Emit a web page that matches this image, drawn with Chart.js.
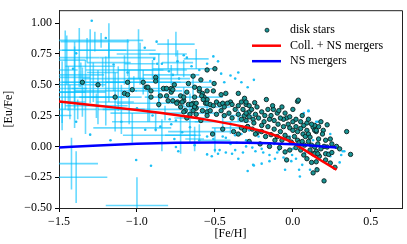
<!DOCTYPE html>
<html>
<head>
<meta charset="utf-8">
<script src="https://cdn.jsdelivr.net/npm/chart.js@4.4.0/dist/chart.umd.min.js"></script>
<style>
html, body { margin: 0; padding: 0; background: #fff; }
</style>
</head>
<body>
<canvas id="eu-chart" width="407" height="244"></canvas>
<script>
// axis ticks
const xTicks = [-1.5, -1.0, -0.5, 0.0, 0.5];
const xTickLabels = ['\u22121.5', '\u22121.0', '\u22120.5', '0.0', '0.5'];
const yTicks = [-0.5, -0.25, 0.0, 0.25, 0.5, 0.75, 1.0];
const yTickLabels = ['\u22120.50', '\u22120.25', '0.00', '0.25', '0.50', '0.75', '1.00'];

// model curves
const modelFeH = [-1.5, -1.25, -1.0, -0.75, -0.5, -0.3, -0.15, 0.0, 0.05, 0.15, 0.28];
const collNsEu = [0.365, 0.33, 0.295, 0.255, 0.205, 0.155, 0.105, 0.03, -0.01, -0.09, -0.19];
const nsEu = [-0.01, 0.008, 0.022, 0.03, 0.032, 0.03, 0.026, 0.017, 0.013, 0.003, -0.01];

// disk stars
const diskFeH = [
  -1.35, -1.25, -1.14, -1.08, -1.06, -1.06, -1.03, -0.96, -0.94, -0.93, -0.91, -0.88, -0.88, -0.91, -0.86, -0.85,
  -0.83, -0.81, -0.81, -0.80, -0.78, -0.78, -0.77, -0.76, -0.74, -0.72, -0.72, -0.70, -0.69, -0.67, -0.64, -0.63,
  -0.63, -0.62, -0.60, -0.59, -0.58, -0.57, -0.56, -0.55, -0.55,
  -0.50, -0.64, -0.505, -0.77, -0.68, -0.63, -0.60, -0.585, -0.55, -0.51, -0.46, -0.43, -0.40, -0.35, -0.31, -0.70,
  -0.745, -0.71, -0.67, -0.65, -0.63, -0.62, -0.575, -0.55, -0.53, -0.51, -0.49, -0.47, -0.45, -0.44, -0.42, -0.39,
  -0.37, -0.35, -0.33, -0.32, -0.30, -0.28, -0.70, -0.66, -0.64, -0.62, -0.58, -0.55, -0.53, -0.49, -0.46, -0.44,
  -0.41, -0.39, -0.35, -0.33, -0.31, -0.30, -0.45, -0.38, -0.35, -0.515, -0.33, -0.31, -0.29, -0.68, -0.59,
  -0.17, 0.03, -0.30, -0.245, -0.28, -0.265, -0.23, -0.20, -0.16, -0.125, -0.10, -0.09, -0.04, -0.06, -0.30, -0.28,
  -0.255, -0.24, -0.22, -0.185, -0.18, -0.15, -0.14, -0.12, -0.095, -0.08, -0.06, -0.03, -0.02, 0.0, 0.02, 0.03,
  0.05, 0.065, 0.08, 0.09, 0.10, 0.11, 0.13, 0.15, 0.14, 0.165, -0.29, -0.26, -0.23, -0.20, -0.175, -0.14,
  -0.115, -0.10, -0.07, -0.05, -0.03, -0.01, 0.01, 0.03, 0.04, 0.06, 0.075, 0.10, 0.12, 0.14, 0.16, 0.11,
  0.13, 0.15, 0.17, 0.07, -0.05, -0.04, 0.13, -0.28, -0.21, -0.15, -0.085,
  0.22, 0.345, 0.14, 0.15, 0.195, 0.19, 0.165, 0.21, 0.24, 0.22, 0.14, 0.16, 0.21, 0.23, 0.25, 0.15,
  0.21, 0.24, 0.27, 0.37, 0.20, 0.155, -0.55, 0.035,
  -0.05, -0.02, 0.0, 0.02, 0.05, 0.07, 0.09, -0.12, -0.08, -0.16, -0.20, -0.25, -0.24, -0.13, -0.07, 0.0,
  0.06, 0.10, 0.12, 0.18, 0.20, 0.18, 0.05, 0.02, 0.09, 0.12, -0.02, 0.25, 0.28, 0.30
];
const diskEuFe = [
  0.52, 0.50, 0.40, 0.43, 0.42, 0.52, 0.46, 0.52, 0.48, 0.48, 0.45, 0.56, 0.53, 0.40, 0.34, 0.41,
  0.47, 0.47, 0.41, 0.37, 0.44, 0.47, 0.37, 0.50, 0.36, 0.32, 0.41, 0.37, 0.29, 0.51, 0.35, 0.32,
  0.40, 0.31, 0.45, 0.54, 0.43, 0.40, 0.35, 0.28, 0.38,
  0.63, 0.57, 0.51, 0.46, 0.44, 0.48, 0.47, 0.41, 0.45, 0.45, 0.42, 0.43, 0.36, 0.43, 0.39, 0.40,
  0.35, 0.36, 0.34, 0.34, 0.32, 0.35, 0.38, 0.35, 0.34, 0.33, 0.36, 0.34, 0.35, 0.32, 0.35, 0.34,
  0.30, 0.33, 0.36, 0.30, 0.34, 0.28, 0.28, 0.26, 0.29, 0.26, 0.29, 0.25, 0.29, 0.26, 0.29, 0.25,
  0.27, 0.23, 0.26, 0.22, 0.25, 0.21, 0.14, 0.12, 0.10, 0.10, 0.15, 0.13, 0.16, 0.23, 0.21,
  0.38, 0.365, 0.36, 0.355, 0.33, 0.30, 0.32, 0.28, 0.30, 0.30, 0.27, 0.29, 0.23, 0.22, 0.27, 0.24,
  0.22, 0.26, 0.23, 0.20, 0.25, 0.22, 0.25, 0.21, 0.18, 0.23, 0.16, 0.18, 0.15, 0.13, 0.16, 0.12,
  0.145, 0.10, 0.08, 0.13, 0.10, 0.075, 0.155, 0.12, 0.13, 0.16, 0.16, 0.14, 0.11, 0.12, 0.08, 0.095,
  0.05, 0.08, 0.05, 0.09, 0.065, 0.035, 0.08, 0.05, 0.03, 0.04, 0.01, 0.04, 0.01, -0.005, 0.02, -0.03,
  -0.06, -0.04, -0.08, -0.07, -0.045, -0.11, -0.215, 0.04, 0.02, 0.0, -0.01,
  0.175, 0.12, 0.17, 0.13, 0.13, 0.10, 0.06, 0.05, 0.06, -0.005, -0.06, -0.06, -0.06, -0.065, -0.05, -0.125,
  -0.11, -0.135, -0.17, -0.065, -0.28, -0.19, 0.62, 0.375,
  0.27, 0.24, 0.20, 0.22, 0.20, 0.17, 0.19, 0.14, 0.12, 0.16, 0.17, 0.19, 0.10, 0.33, 0.32, 0.30,
  0.25, 0.22, 0.18, 0.20, 0.0, -0.02, -0.03, -0.01, -0.10, -0.13, -0.03, 0.02, 0.0, -0.02
];

// other stars, no error bars
const fieldFeH = [
  -1.29, -0.874, -1.39, -1.15, -0.89, -0.87, -0.84, -0.795, -0.74, -1.41, -1.14, -1.03, -1.06, -1.30, -1.17, -1.005,
  -0.91, -0.947, -0.88, -0.85, -0.78, -0.76, -0.75, -0.75, -0.79, -1.39, -0.735, -0.55, -0.52, -0.48, -0.43, -0.39,
  -0.37, -0.32, -0.25, -0.29, -0.47, -0.50, -0.63, -0.71, -0.66, -0.55, -0.51, -0.45, -0.43, -0.37, -0.33, -0.30,
  -0.28, -0.36, -0.255, -0.20, -0.115, -0.05, 0.045, 0.04, 0.11, -0.01, 0.06, -0.06, 0.30, 0.33, -0.19, -0.15,
  -0.09, -0.005, 0.10, 0.13, 0.24, -0.26, -0.24, 0.14, -0.70, -0.68, -0.51, -0.48, -0.55, -0.35, -0.37, -0.40,
  -0.46, -0.44, -0.53, -0.77, -0.73, -0.33, -0.29, -0.25, 0.10, 0.15, 0.17, 0.07, 0.32, 0.16, 0.22, 0.24,
  0.31, 0.15, -0.2, -0.1, 0.0, 0.05, -0.3, -0.4, -0.6, -0.35, -0.15, 0.02, 0.08, -0.22, -0.12, -0.02,
  -0.6, -0.65, -1.2, -0.95, -1.0, -1.1, -0.9
];
const fieldEuFe = [
  1.02, 0.85, 0.755, 0.665, 0.71, 0.67, 0.67, 0.61, 0.69, 0.63, 0.41, 0.45, 0.60, 0.095, 0.05, -0.11,
  -0.157, 0.135, 0.135, 0.16, 0.18, 0.06, -0.005, 0.21, 0.22, 0.20, -0.04, -0.065, -0.08, -0.06, -0.05, -0.06,
  -0.03, -0.05, -0.155, -0.20, -0.03, -0.03, 0.01, 0.115, 0.155, 0.08, 0.06, 0.08, 0.07, 0.09, 0.10, 0.05,
  0.13, 0.03, -0.15, -0.14, -0.10, -0.19, -0.245, -0.19, -0.19, -0.12, -0.15, -0.09, -0.13, -0.04, -0.05, -0.07,
  -0.03, -0.07, 0.285, 0.05, 0.10, -0.01, -0.04, -0.06, 0.74, 0.72, 0.73, 0.69, 0.67, 0.60, 0.55, 0.575,
  0.59, 0.52, 0.53, 0.58, 0.55, 0.52, 0.48, 0.54, 0.29, 0.20, 0.06, 0.27, -0.04, 0.20, -0.05, -0.08,
  -0.07, -0.18, -0.02, -0.05, -0.02, 0.0, 0.0, 0.02, 0.05, -0.1, -0.12, -0.10, -0.05, 0.08, 0.02, 0.08,
  0.62, 0.65, 0.88, 0.8, 0.31, 0.2, 0.25
];

// stars with error bars
const errFeH = [-1.46, -1.44, -1.43, -1.42, -1.39, -1.40, -1.37, -1.35, -1.32, -1.30, -1.28, -1.27, -1.25, -1.22,
  -1.18, -1.15, -1.12, -1.10, -1.06, -1.03, -1.0, -0.99, -0.96, -0.93, -0.90, -0.88, -0.86, -0.82, -0.78, -0.75,
  -0.74, -0.72, -0.70, -0.66, -0.62, -0.60, -0.55, -0.50, -0.45, -0.40, -0.35, -1.48, -0.84, -0.63,
  -1.23, -1.02, -1.18, -1.40, -1.45, -1.33, -1.20, -1.08, -0.98, -0.92, -0.80, -0.70, -1.36, -1.26, -1.14, -1.48,
  -0.86, -0.64, -1.38, -1.05];
const errEuFe = [0.62, 0.47, 0.36, -0.14, -0.25, 0.56, 0.72, 0.44, 0.78, 0.65, 0.52, 0.85, 0.40, 0.60,
  0.68, 0.55, 0.47, 0.30, 0.72, 0.15, -0.48, 0.75, 0.52, 0.35, 0.62, 0.20, 0.45, 0.27, 0.58, 0.83,
  0.68, 0.09, 0.40, 0.23, 0.71, 0.12, 0.32, 0.05, 0.20, 0.15, 0.25, 0.25, 0.09, 0.06,
  0.86, 0.52, 0.78, 0.50, 0.70, 0.40, 0.45, 0.62, 0.67, 0.30, 0.75, 0.63, 0.58, 0.33, 0.36, 0.44,
  0.55, 0.48, 0.30, 0.40];
const errFeHSig = [0.08, 0.12, 0.10, 0.17, 0.20, 0.10, 0.13, 0.15, 0.25, 0.16, 0.20, 0.22, 0.12, 0.10,
  0.14, 0.20, 0.30, 0.15, 0.18, 0.25, 0.20, 0.14, 0.24, 0.20, 0.22, 0.28, 0.15, 0.35, 0.18, 0.12,
  0.10, 0.10, 0.25, 0.10, 0.08, 0.20, 0.15, 0.10, 0.18, 0.12, 0.10, 0.06, 0.25, 0.06,
  0.27, 0.50, 0.30, 0.20, 0.12, 0.25, 0.20, 0.25, 0.10, 0.30, 0.12, 0.20, 0.15, 0.20, 0.12, 0.15,
  0.20, 0.12, 0.12, 0.08];
const errEuFeSig = [0.32, 0.18, 0.14, 0.21, 0.21, 0.25, 0.24, 0.20, 0.10, 0.30, 0.16, 0.08, 0.22, 0.12,
  0.32, 0.10, 0.18, 0.20, 0.15, 0.12, 0.23, 0.20, 0.10, 0.15, 0.08, 0.08, 0.14, 0.06, 0.08, 0.10,
  0.10, 0.15, 0.08, 0.20, 0.08, 0.06, 0.08, 0.10, 0.06, 0.05, 0.05, 0.12, 0.13, 0.10,
  0.06, 0.05, 0.06, 0.35, 0.20, 0.30, 0.28, 0.12, 0.17, 0.10, 0.12, 0.07, 0.10, 0.10, 0.24, 0.25,
  0.20, 0.10, 0.08, 0.22];

function pairs(xs, ys) {
    return xs.map((v, i) => ({x: v, y: ys[i]}));
}

// colours
const diskFill = '#1a9494';
const diskEdge = '#0a2020';
const fieldColor = '#1cbff5';
const errColor = 'rgba(0, 191, 255, 0.6)';

const errorBars = {
    id: 'errorBars',
    beforeDatasetsDraw(chart) {
        const {ctx, chartArea: a, scales: {x, y}} = chart;
        ctx.save();
        ctx.beginPath();
        ctx.rect(a.left, a.top, a.right - a.left, a.bottom - a.top);
        ctx.clip();
        ctx.strokeStyle = errColor;
        ctx.lineWidth = 1.6;
        for (let i = 0; i < errFeH.length; i++) {
            const cx = x.getPixelForValue(errFeH[i]);
            const cy = y.getPixelForValue(errEuFe[i]);
            ctx.beginPath();
            ctx.moveTo(x.getPixelForValue(errFeH[i] - errFeHSig[i]), cy);
            ctx.lineTo(x.getPixelForValue(errFeH[i] + errFeHSig[i]), cy);
            ctx.stroke();
            ctx.beginPath();
            ctx.moveTo(cx, y.getPixelForValue(errEuFe[i] - errEuFeSig[i]));
            ctx.lineTo(cx, y.getPixelForValue(errEuFe[i] + errEuFeSig[i]));
            ctx.stroke();
        }
        ctx.restore();
    }
};

// top/right spines and the legend
const frameLegend = {
    id: 'frameLegend',
    afterDraw(chart) {
        const {ctx, chartArea: a} = chart;
        ctx.save();
        ctx.strokeStyle = '#222';
        ctx.lineWidth = 1;
        ctx.beginPath();
        ctx.moveTo(a.left, a.top + 0.5);
        ctx.lineTo(a.right + 0.5, a.top + 0.5);
        ctx.lineTo(a.right + 0.5, a.bottom);
        ctx.stroke();

        const tx = a.right - 112;
        const rows = [a.top + 20, a.top + 35.5, a.top + 51];
        ctx.font = "12px 'Liberation Serif', 'DejaVu Serif', serif";
        ctx.fillStyle = '#000';
        ctx.textBaseline = 'middle';
        ctx.textAlign = 'left';
        ['disk stars', 'Coll. + NS mergers', 'NS mergers'].forEach((t, i) => ctx.fillText(t, tx, rows[i]));

        ctx.beginPath();
        ctx.arc(tx - 23, rows[0], 2, 0, Math.PI * 2);
        ctx.fillStyle = diskFill;
        ctx.fill();
        ctx.strokeStyle = diskEdge;
        ctx.lineWidth = 0.8;
        ctx.stroke();

        ctx.lineWidth = 2.5;
        ctx.strokeStyle = '#ff0000';
        ctx.beginPath();
        ctx.moveTo(tx - 38, rows[1]);
        ctx.lineTo(tx - 9, rows[1]);
        ctx.stroke();
        ctx.strokeStyle = '#0000ff';
        ctx.beginPath();
        ctx.moveTo(tx - 38, rows[2]);
        ctx.lineTo(tx - 9, rows[2]);
        ctx.stroke();
        ctx.restore();
    }
};

Chart.defaults.font.family = "'Liberation Serif', 'DejaVu Serif', serif";
Chart.defaults.font.size = 12;
Chart.defaults.color = '#000';

var ctx = document.getElementById('eu-chart').getContext('2d');
var euChart = new Chart(ctx, {
    type: 'scatter',
    data: {
        datasets: [{
            label: 'NS mergers',
            data: pairs(modelFeH, nsEu),
            showLine: true,
            borderColor: '#0000ff',
            borderWidth: 2.5,
            pointRadius: 0,
            cubicInterpolationMode: 'monotone',
            order: 0
        }, {
            label: 'Coll. + NS mergers',
            data: pairs(modelFeH, collNsEu),
            showLine: true,
            borderColor: '#ff0000',
            borderWidth: 2.5,
            pointRadius: 0,
            cubicInterpolationMode: 'monotone',
            order: 1
        }, {
            label: 'disk stars',
            data: pairs(diskFeH, diskEuFe),
            backgroundColor: diskFill,
            borderColor: diskEdge,
            borderWidth: 0.9,
            pointRadius: 2.2,
            order: 2
        }, {
            label: 'other stars',
            data: pairs(fieldFeH, fieldEuFe),
            backgroundColor: fieldColor,
            borderWidth: 0,
            pointRadius: 1.3,
            order: 3
        }]
    },
    options: {
        responsive: false,
        animation: false,
        devicePixelRatio: 1,
        layout: { padding: { top: 10, right: 5, left: 0, bottom: 0 } },
        plugins: {
            legend: { display: false },
            tooltip: { enabled: false }
        },
        scales: {
            x: {
                type: 'linear',
                min: -1.5,
                max: 0.7,
                afterBuildTicks: s => { s.ticks = xTicks.map(v => ({value: v})); },
                afterFit: s => { s.height = 36; },
                ticks: {
                    callback: (v, i) => xTickLabels[i],
                    padding: 3,
                    maxRotation: 0,
                    autoSkip: false
                },
                grid: { drawOnChartArea: false, drawTicks: true, tickLength: 4, color: '#000' },
                border: { display: true, color: '#222', width: 1 },
                title: { display: true, text: '[Fe/H]', padding: { top: 0, bottom: 3 } }
            },
            y: {
                type: 'linear',
                min: -0.5,
                max: 1.105,
                afterBuildTicks: s => { s.ticks = yTicks.map(v => ({value: v})); },
                afterFit: s => { s.width = 59; },
                ticks: {
                    callback: (v, i) => yTickLabels[i],
                    padding: 3,
                    autoSkip: false
                },
                grid: { drawOnChartArea: false, drawTicks: true, tickLength: 4, color: '#000' },
                border: { display: true, color: '#222', width: 1 },
                title: { display: true, text: '[Eu/Fe]', padding: { top: 2, bottom: 0 } }
            }
        }
    },
    plugins: [errorBars, frameLegend]
});
</script>
</body>
</html>
